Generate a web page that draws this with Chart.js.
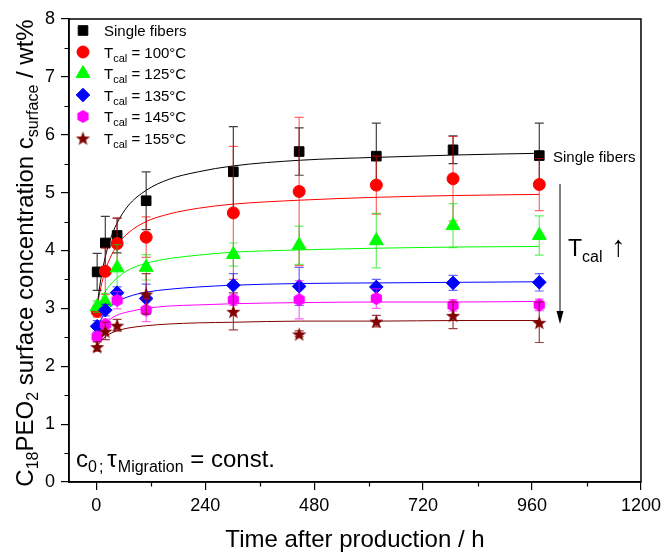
<!DOCTYPE html>
<html>
<head>
<meta charset="utf-8">
<script src="https://cdn.jsdelivr.net/npm/chart.js@4.4.0/dist/chart.umd.min.js"></script>
<style>
  html, body { margin: 0; padding: 0; background: #fff; }
  #wrap { width: 666px; height: 552px; }
</style>
</head>
<body>
<div id="wrap"><canvas id="chart" width="666" height="552"></canvas></div>
<script>
// Measurement times (h after production)
const times = [2, 20, 46, 110, 302, 447, 617, 786, 976];

// Calcination temperatures (°C) of the treated samples
const calTemps = [100, 125, 135, 145, 155];

// Surface concentration (wt%) and standard deviation per series
const singleFibers   = [3.63, 4.13, 4.26, 4.86, 5.36, 5.71, 5.63, 5.74, 5.64];
const singleFibersSd = [0.32, 0.46, 0.30, 0.50, 0.78, 0.41, 0.57, 0.24, 0.56];
const tcal100   = [2.95, 3.64, 4.12, 4.23, 4.65, 5.02, 5.13, 5.24, 5.14];
const tcal100Sd = [0.10, 0.40, 0.44, 0.35, 1.15, 1.28, 0.50, 0.73, 0.45];
const tcal125   = [3.03, 3.11, 3.70, 3.71, 3.93, 4.09, 4.17, 4.43, 4.26];
const tcal125Sd = [0.10, 0.15, 0.40, 0.22, 0.20, 0.33, 0.47, 0.38, 0.34];
const tcal135   = [2.69, 2.97, 3.27, 3.17, 3.40, 3.38, 3.37, 3.44, 3.45];
const tcal135Sd = [0.10, 0.10, 0.10, 0.25, 0.20, 0.33, 0.13, 0.13, 0.15];
const tcal145   = [2.51, 2.72, 3.14, 2.97, 3.15, 3.15, 3.17, 3.05, 3.06];
const tcal145Sd = [0.08, 0.10, 0.15, 0.20, 0.10, 0.33, 0.17, 0.10, 0.10];
const tcal155   = [2.34, 2.61, 2.71, 3.25, 2.95, 2.56, 2.78, 2.88, 2.76];
const tcal155Sd = [0.08, 0.15, 0.10, 0.35, 0.32, 0.05, 0.10, 0.23, 0.35];

// Fitted migration curves, sampled along the time axis
const fitTimes = [1, 5, 10, 20, 30, 45, 70, 110, 160, 225, 300, 450, 620, 790, 976];
const fitSingle = [2.97, 3.23, 3.50, 3.89, 4.17, 4.46, 4.77, 5.04, 5.23, 5.36, 5.46, 5.56, 5.61, 5.65, 5.68];
const fit100    = [2.96, 3.16, 3.36, 3.66, 3.86, 4.08, 4.30, 4.50, 4.63, 4.73, 4.80, 4.87, 4.92, 4.95, 4.97];
const fit125    = [2.93, 3.03, 3.13, 3.29, 3.40, 3.52, 3.66, 3.78, 3.86, 3.92, 3.97, 4.01, 4.04, 4.06, 4.07];
const fit135    = [2.63, 2.71, 2.80, 2.93, 3.02, 3.11, 3.20, 3.28, 3.33, 3.37, 3.40, 3.43, 3.44, 3.45, 3.46];
const fit145    = [2.47, 2.55, 2.63, 2.74, 2.81, 2.88, 2.94, 3.00, 3.04, 3.06, 3.08, 3.10, 3.11, 3.11, 3.12];
const fit155    = [2.32, 2.38, 2.43, 2.51, 2.56, 2.61, 2.66, 2.70, 2.73, 2.75, 2.76, 2.78, 2.78, 2.79, 2.79];

// Axis ticks
const xTickValues = [0, 240, 480, 720, 960, 1200];
const xMinorValues = [120, 360, 600, 840, 1080];
const yMinorValues = [0.5, 1.5, 2.5, 3.5, 4.5, 5.5, 6.5, 7.5];

const FONT = '"Liberation Sans", Arial, Helvetica, sans-serif';

// ---- custom marker sprites ----
function makeHexagon(color, r) {
  const c = document.createElement('canvas');
  const s = Math.ceil(r * 2 + 2);
  c.width = s; c.height = s;
  const g = c.getContext('2d');
  g.fillStyle = color;
  g.beginPath();
  for (let k = 0; k < 6; k++) {
    const a = Math.PI / 2 + k * Math.PI / 3;
    const px = s / 2 + r * Math.cos(a), py = s / 2 - r * Math.sin(a);
    k ? g.lineTo(px, py) : g.moveTo(px, py);
  }
  g.closePath();
  g.fill();
  return c;
}
function makeStar(color, ro, ri) {
  const c = document.createElement('canvas');
  const s = Math.ceil(ro * 2 + 2);
  c.width = s; c.height = s;
  const g = c.getContext('2d');
  g.fillStyle = color;
  g.beginPath();
  for (let k = 0; k < 10; k++) {
    const r = k % 2 ? ri : ro;
    const a = Math.PI / 2 + k * Math.PI / 5;
    const px = s / 2 + r * Math.cos(a), py = s / 2 + 1 - r * Math.sin(a);
    k ? g.lineTo(px, py) : g.moveTo(px, py);
  }
  g.closePath();
  g.fill();
  return c;
}

const hexSprite = makeHexagon('#ff00ff', 6.5);
const starSprite = makeStar('#800000', 7.5, 3.1);

const series = [
  { label: 'Single fibers', vals: singleFibers, sd: singleFibersSd, fit: fitSingle, color: '#000000', bar: 'rgba(0,0,0,0.75)', style: 'rect', radius: 6.8 },
  { label: calTemps[0], vals: tcal100, sd: tcal100Sd, fit: fit100, color: '#ff0000', bar: 'rgba(255,0,0,0.6)', style: 'circle', radius: 6 },
  { label: calTemps[1], vals: tcal125, sd: tcal125Sd, fit: fit125, color: '#00ff00', bar: 'rgba(0,230,0,0.6)', style: 'triangle', radius: 8 },
  { label: calTemps[2], vals: tcal135, sd: tcal135Sd, fit: fit135, color: '#0000ff', bar: 'rgba(0,0,255,0.6)', style: 'rectRot', radius: 6.8 },
  { label: calTemps[3], vals: tcal145, sd: tcal145Sd, fit: fit145, color: '#ff00ff', bar: 'rgba(255,0,255,0.6)', style: hexSprite, radius: 6.5 },
  { label: calTemps[4], vals: tcal155, sd: tcal155Sd, fit: fit155, color: '#800000', bar: 'rgba(128,0,0,0.75)', style: starSprite, radius: 7 }
];

const datasets = [];
series.forEach((s) => {
  datasets.push({
    type: 'scatter',
    data: fitTimes.map((t, k) => ({ x: t, y: s.fit[k] })),
    showLine: true,
    borderColor: s.color,
    borderWidth: 1,
    pointRadius: 0,
    cubicInterpolationMode: 'monotone',
    fill: false,
    order: 20
  });
});
series.forEach((s, i) => {
  datasets.push({
    type: 'scatter',
    data: times.map((t, k) => ({ x: t, y: s.vals[k] })),
    errorBars: s.sd,
    barColor: s.bar,
    showLine: false,
    pointStyle: s.style,
    pointRadius: s.radius,
    backgroundColor: s.color,
    borderColor: s.color,
    borderWidth: 1,
    order: 6 - i
  });
});

// Vertical error bars with caps, drawn just before each series' markers
const errorBarPlugin = {
  id: 'errorBars',
  beforeDatasetDraw(chart, args) {
    const ds = chart.data.datasets[args.index];
    if (!ds.errorBars) return;
    const { ctx, scales: { x, y } } = chart;
    ctx.save();
    ctx.strokeStyle = ds.barColor;
    ctx.lineWidth = 1.2;
    const cap = 4.5;
    ds.data.forEach((p, k) => {
      const e = ds.errorBars[k];
      const px = x.getPixelForValue(p.x);
      const yt = y.getPixelForValue(p.y + e);
      const yb = y.getPixelForValue(p.y - e);
      ctx.beginPath();
      ctx.moveTo(px, yt); ctx.lineTo(px, yb);
      ctx.moveTo(px - cap, yt); ctx.lineTo(px + cap, yt);
      ctx.moveTo(px - cap, yb); ctx.lineTo(px + cap, yb);
      ctx.stroke();
    });
    ctx.restore();
  }
};

// Text runs with subscripts; each run may carry its own size and extra spacing
function drawRich(ctx, segs, x, y, mainSize, subSize, drop) {
  let cx = x;
  for (const s of segs) {
    cx += s.dx || 0;
    ctx.font = (s.size || (s.sub ? subSize : mainSize)) + 'px ' + FONT;
    ctx.fillText(s.t, cx, y + (s.sub ? drop : 0));
    cx += ctx.measureText(s.t).width;
  }
  return cx - x;
}
function richWidth(ctx, segs, mainSize, subSize) {
  let w = 0;
  for (const s of segs) {
    w += s.dx || 0;
    ctx.font = (s.size || (s.sub ? subSize : mainSize)) + 'px ' + FONT;
    w += ctx.measureText(s.t).width;
  }
  return w;
}

// Frame, minor ticks, legend, y title and annotations
const decorPlugin = {
  id: 'decor',
  afterDraw(chart) {
    const { ctx, chartArea: a, scales: { x, y } } = chart;
    ctx.save();
    ctx.strokeStyle = '#000';
    ctx.lineWidth = 1.5;
    ctx.strokeRect(a.left, a.top, a.right - a.left, a.bottom - a.top);

    ctx.lineWidth = 1.2;
    ctx.beginPath();
    xMinorValues.forEach(v => {
      const px = Math.round(x.getPixelForValue(v)) + 0.5;
      ctx.moveTo(px, a.bottom); ctx.lineTo(px, a.bottom + 4.5);
    });
    yMinorValues.forEach(v => {
      const py = Math.round(y.getPixelForValue(v)) + 0.5;
      ctx.moveTo(a.left, py); ctx.lineTo(a.left - 4.5, py);
    });
    ctx.stroke();

    // legend
    ctx.fillStyle = '#000';
    ctx.textBaseline = 'alphabetic';
    const lx = 83, tx = 104, ly0 = 30.5, dy = 21.5;
    series.forEach((s, i) => {
      const cy = ly0 + i * dy;
      ctx.save();
      ctx.fillStyle = s.color;
      ctx.strokeStyle = s.color;
      ctx.lineWidth = 1;
      Chart.helpers.drawPoint(ctx, { pointStyle: s.style, radius: s.radius, rotation: 0, borderWidth: 1 }, lx, cy);
      ctx.restore();
      ctx.fillStyle = '#000';
      const segs = i === 0
        ? [{ t: s.label }]
        : [{ t: 'T' }, { t: 'cal', sub: true }, { t: ' = ' + s.label + '°C' }];
      drawRich(ctx, segs, tx, cy + 5.5, 15, 11, 4);
    });

    // y axis title (rotated)
    const ySegs = [
      { t: 'C' }, { t: '18', sub: true }, { t: 'PEO' }, { t: '2', sub: true },
      { t: ' surface concentration c' }, { t: 'surface', sub: true }, { t: ' / wt%' }
    ];
    const yw = richWidth(ctx, ySegs, 24, 16);
    ctx.save();
    ctx.translate(33, 253 + yw / 2);
    ctx.rotate(-Math.PI / 2);
    drawRich(ctx, ySegs, 0, 0, 24, 16, 5);
    ctx.restore();

    // series annotation
    ctx.font = '15px ' + FONT;
    ctx.fillText('Single fibers', 553, 162);

    // downward arrow for rising calcination temperature
    ctx.beginPath();
    ctx.lineWidth = 1;
    ctx.moveTo(560, 184); ctx.lineTo(560, 314);
    ctx.stroke();
    ctx.beginPath();
    ctx.moveTo(556.5, 311); ctx.lineTo(563.5, 311); ctx.lineTo(560, 324);
    ctx.closePath();
    ctx.fill();

    drawRich(ctx, [{ t: 'T' }, { t: 'cal', sub: true }], 568, 256, 23, 16, 6);
    ctx.font = '29px ' + FONT;
    ctx.fillText('↑', 611, 256);

    drawRich(ctx, [
      { t: 'c' }, { t: '0', sub: true }, { t: ';', sub: true, dx: 2 }, { t: 'τ', dx: 4 },
      { t: 'Migration', sub: true, dx: 1 }, { t: ' = const.' }
    ], 76, 467, 24, 16, 5);
    ctx.restore();
  }
};

new Chart(document.getElementById('chart'), {
  type: 'scatter',
  data: { datasets },
  options: {
    responsive: false,
    animation: false,
    devicePixelRatio: 1,
    events: [],
    layout: { padding: { left: 0, top: 19, right: 23, bottom: 0 } },
    plugins: { legend: { display: false }, tooltip: { enabled: false } },
    scales: {
      x: {
        type: 'linear',
        min: -60,
        max: 1200,
        afterBuildTicks(s) { s.ticks = xTickValues.map(v => ({ value: v })); },
        afterFit(s) { s.height = 70; },
        ticks: {
          color: '#000', font: { size: 18, family: FONT }, padding: 5, maxRotation: 0, autoSkip: false,
          callback: v => String(v)
        },
        grid: { drawOnChartArea: false, drawTicks: true, tickLength: 8, color: '#000', lineWidth: 1.2 },
        border: { display: true, color: '#000', width: 1.5 },
        title: {
          display: true,
          text: 'Time after production / h',
          color: '#000',
          font: { size: 24, family: FONT, lineHeight: 1 },
          padding: { top: 0, bottom: 0 }
        }
      },
      y: {
        type: 'linear',
        min: 0,
        max: 8,
        afterFit(s) { s.width = 69; },
        ticks: { stepSize: 1, color: '#000', font: { size: 18, family: FONT }, padding: 6 },
        grid: { drawOnChartArea: false, drawTicks: true, tickLength: 8, color: '#000', lineWidth: 1.2 },
        border: { display: true, color: '#000', width: 1.5 }
      }
    }
  },
  plugins: [errorBarPlugin, decorPlugin]
});
</script>
</body>
</html>
